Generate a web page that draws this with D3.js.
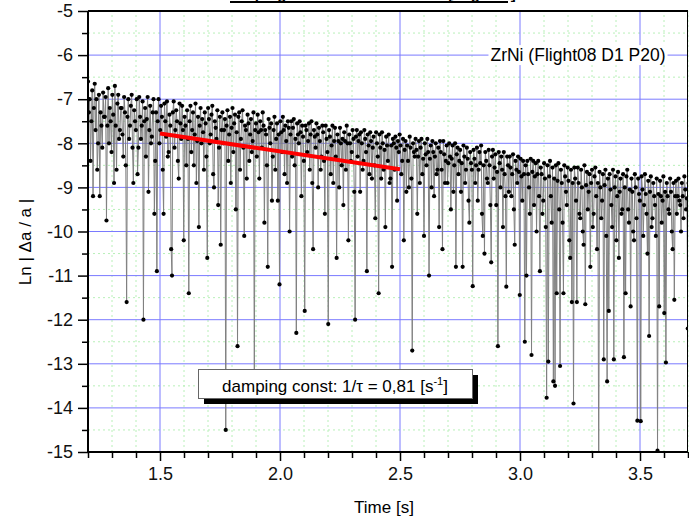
<!DOCTYPE html>
<html>
<head>
<meta charset="utf-8">
<script src="https://cdn.jsdelivr.net/npm/d3@7"></script>
<style>
  body { margin: 0; background: #fff; }
  svg { display: block; font-family: "Liberation Sans", Arial, sans-serif; }
</style>
</head>
<body>
<div id="chart"></div>
<script>
// sampling grid of the measurement (time axis, s)
const timeStart = 1.2;
const timeStep = 0.0035;

// Ln|Δa/a|, one value per sample (20 samples = 0.07 s per row)
const lnValues = [
  -6.6, -7.3, -7.0, -8.4, -7.5, -6.8, -9.2, -7.2, -6.65, -7.7, -7.0, -8.6, -8.0, -6.9, -9.2, -7.3, -7.6, -8.1, -6.85, -7.4,
  -7.4, -6.95, -9.75, -7.6, -6.75, -8.0, -7.2, -7.5, -8.2, -6.9, -7.35, -8.9, -6.7, -7.6, -8.6, -7.1, -6.9, -7.9, -7.7, -7.2,
  -7.2, -7.8, -8.3, -6.95, -7.3, -8.5, -11.6, -7.4, -7.0, -7.9, -7.6, -7.15, -6.9, -8.1, -8.9, -7.25, -7.5, -7.7, -7.0, -8.7,
  -8.1, -6.95, -7.4, -7.9, -7.6, -7.05, -12.0, -7.5, -7.2, -8.3, -7.45, -6.95, -9.1, -7.7, -7.15, -8.0, -7.85, -7.3, -7.0, -9.6,
  -8.4, -7.3, -10.9, -7.5, -7.0, -8.0, -7.7, -7.15, -7.4, -8.6, -9.6, -7.1, -7.5, -7.85, -7.05, -8.3, -8.2, -7.35, -7.6, -10.4,
  -11.0, -7.3, -7.05, -8.1, -7.7, -7.25, -7.5, -8.4, -8.8, -7.1, -7.55, -7.9, -7.15, -7.7, -10.2, -7.4, -7.6, -8.5, -7.25, -7.9,
  -11.4, -7.5, -7.15, -8.2, -7.7, -7.3, -8.5, -7.8, -7.1, -8.9, -7.95, -7.4, -9.9, -7.6, -7.2, -8.0, -7.45, -7.75, -8.6, -7.3,
  -7.55, -8.3, -10.6, -7.2, -7.45, -8.0, -7.8, -7.35, -7.15, -8.7, -9.0, -7.5, -7.65, -7.9, -7.25, -9.4, -8.1, -7.4, -10.3, -7.7,
  -7.3, -8.0, -7.7, -7.45, -14.5, -7.6, -7.25, -8.4, -7.8, -7.4, -8.9, -7.65, -7.2, -8.2, -7.55, -7.35, -9.5, -7.75, -12.6, -7.4,
  -7.3, -8.6, -7.9, -7.5, -7.25, -8.1, -10.1, -7.6, -7.7, -8.8, -7.35, -7.55, -8.4, -7.8, -7.45, -8.2, -7.95, -7.3, -13.3, -7.7,
  -7.55, -8.3, -7.35, -7.75, -8.8, -7.5, -7.7, -8.1, -7.3, -7.6, -9.8, -7.7, -7.8, -8.5, -10.8, -7.45, -7.65, -8.0, -7.55, -9.3,
  -8.3, -7.7, -7.4, -8.6, -7.9, -7.55, -9.3, -7.8, -11.2, -7.5, -7.75, -8.2, -7.4, -7.7, -8.7, -7.6, -7.95, -8.9, -7.5, -7.65,
  -10.0, -7.8, -7.5, -8.3, -7.65, -7.45, -8.5, -7.9, -12.3, -7.55, -7.8, -8.0, -7.5, -7.75, -9.2, -7.6, -7.85, -8.4, -11.8, -7.6,
  -7.7, -8.2, -7.95, -7.55, -8.6, -7.8, -7.5, -8.9, -10.4, -7.7, -7.85, -8.1, -7.55, -7.8, -9.0, -7.65, -7.95, -8.6, -8.3, -7.6,
  -7.75, -8.4, -9.6, -7.6, -7.9, -8.2, -12.1, -7.7, -7.85, -8.7, -8.05, -7.6, -8.9, -7.95, -7.65, -8.3, -10.6, -7.8, -7.95, -9.0,
  -7.65, -8.0, -8.5, -7.9, -9.4, -7.75, -7.95, -8.6, -7.6, -8.0, -10.2, -7.8, -8.0, -8.4, -8.2, -7.7, -7.9, -9.1, -12.0, -7.85,
  -7.7, -8.3, -7.95, -7.8, -9.1, -7.75, -8.0, -8.6, -8.4, -7.7, -7.9, -8.2, -10.9, -7.8, -8.05, -8.7, -7.75, -7.95, -8.8, -8.1,
  -7.85, -8.5, -9.7, -7.75, -8.0, -8.3, -11.4, -7.8, -8.1, -8.8, -7.75, -8.0, -8.6, -8.15, -9.9, -7.85, -8.05, -8.4, -7.8, -8.9,
  -8.8, -8.05, -10.8, -7.9, -8.0, -8.6, -7.85, -8.1, -9.3, -7.95, -8.2, -7.8, -8.05, -8.7, -8.4, -7.9, -10.2, -8.15, -7.95, -9.1,
  -8.05, -8.4, -9.0, -7.85, -8.1, -8.8, -12.7, -8.0, -8.2, -8.3, -7.9, -8.15, -9.6, -8.3, -7.95, -8.9, -8.1, -7.9, -8.7, -8.35,
  -10.1, -8.0, -8.25, -8.5, -7.9, -8.2, -11.0, -8.35, -8.05, -9.0, -7.95, -8.2, -9.2, -8.3, -8.0, -8.7, -8.6, -8.1, -9.9, -7.95,
  -8.2, -8.6, -10.4, -7.95, -8.25, -8.9, -8.4, -8.05, -8.9, -8.45, -8.0, -8.3, -9.5, -8.35, -8.05, -9.1, -8.5, -8.0, -10.8, -8.25,
  -8.1, -8.7, -8.4, -8.15, -9.1, -8.45, -10.8, -8.05, -8.3, -8.9, -8.6, -8.1, -8.35, -9.3, -9.8, -8.2, -8.45, -8.6, -11.24, -8.15,
  -8.35, -8.9, -8.5, -8.1, -9.3, -8.6, -8.2, -8.45, -8.05, -9.6, -10.1, -8.5, -10.5, -8.2, -8.4, -8.8, -8.9, -8.15, -8.5, -9.4,
  -10.7, -8.3, -8.15, -8.8, -8.55, -8.25, -9.4, -8.65, -12.6, -8.2, -8.45, -9.0, -8.3, -8.6, -9.9, -8.2, -8.7, -9.2, -11.25, -8.3,
  -8.5, -9.1, -8.3, -8.55, -9.2, -8.7, -8.25, -9.5, -10.3, -8.4, -8.6, -8.9, -8.3, -8.65, -11.44, -8.35, -8.75, -9.3, -8.4, -8.7,
  -12.5, -8.5, -11.0, -8.4, -8.7, -9.0, -9.6, -8.35, -12.8, -8.65, -8.4, -9.4, -8.75, -8.45, -10.0, -8.7, -8.4, -9.2, -10.9, -8.55,
  -8.7, -9.6, -9.3, -8.45, -8.8, -9.9, -13.77, -8.5, -12.95, -8.75, -8.4, -9.2, -9.8, -8.55, -13.4, -8.8, -13.5, -8.5, -11.4, -8.85,
  -8.45, -9.5, -13.05, -8.6, -8.9, -9.8, -11.4, -8.5, -8.75, -9.1, -9.4, -8.55, -8.85, -10.2, -10.6, -8.6, -11.6, -8.9, -13.9, -8.55,
  -8.8, -9.3, -11.6, -8.55, -8.9, -9.6, -9.7, -8.6, -9.0, -10.0, -10.3, -8.5, -11.65, -8.95, -8.65, -9.5, -9.1, -8.7, -10.8, -8.9,
  -8.6, -9.9, -9.6, -8.75, -8.55, -9.2, -10.4, -8.9, -15.8, -8.65, -9.0, -9.7, -9.3, -8.7, -12.9, -8.95, -8.6, -10.1, -13.4, -8.8,
  -11.8, -8.7, -9.05, -9.4, -9.9, -8.6, -12.9, -9.0, -8.75, -10.2, -9.2, -8.65, -10.6, -9.1, -8.8, -9.6, -9.5, -8.7, -12.85, -9.0,
  -11.4, -8.75, -8.6, -9.5, -9.8, -9.05, -11.7, -8.8, -9.1, -10.0, -10.2, -8.7, -9.0, -9.7, -14.29, -8.8, -9.15, -9.3, -14.3, -8.75,
  -9.05, -10.1, -9.4, -8.7, -9.15, -9.6, -10.5, -8.85, -12.37, -9.1, -8.75, -9.9, -9.7, -8.9, -9.2, -9.4, -10.1, -8.8, -14.97, -9.15,
  -11.7, -8.85, -9.2, -9.8, -9.3, -8.75, -11.85, -9.1, -12.97, -8.9, -9.2, -9.5, -9.6, -8.8, -9.1, -10.0, -10.4, -8.9, -11.55, -9.2,
  -8.85, -9.6, -9.2, -8.8, -9.3, -9.4, -10.0, -8.9, -9.2, -9.7, -8.75, -9.05, -9.5, -9.25, -12.2, -8.9
];

// linear fit drawn in red
const fitTimes = [1.5, 2.5];
const fitValues = [-7.78, -8.59];

const xMajorTicks = [1.5, 2.0, 2.5, 3.0, 3.5];
const yMajorTicks = [-15, -14, -13, -12, -11, -10, -9, -8, -7, -6, -5];

const titleText = 'Damping of the ZrNi oscillation [Flight08]';
const sampleText = 'ZrNi (Flight08 D1 P20)';

const width = 689, height = 519;
const margin = { left: 88, right: 1, top: 11, bottom: 67 };

const svg = d3.select('#chart').append('svg')
    .attr('width', width)
    .attr('height', height);

const x = d3.scaleLinear().domain([1.2, 3.7]).range([margin.left, width - margin.right]);
const y = d3.scaleLinear().domain([-15, -5]).range([height - margin.bottom, margin.top]);

const xMinorTicks = d3.range(12, 38).map(d => d / 10).filter(d => !xMajorTicks.some(m => Math.abs(m - d) < 1e-9));
const yMinorTicks = d3.range(-14.5, -5, 1);

// grid: green dotted minor, blue major
const grid = svg.append('g');
grid.selectAll('.gx-minor').data(xMinorTicks).enter().append('line')
    .attr('x1', d => x(d)).attr('x2', d => x(d))
    .attr('y1', y(-15)).attr('y2', y(-5))
    .attr('stroke', '#b8f0b8').attr('stroke-dasharray', '2,3');
grid.selectAll('.gy-minor').data(yMinorTicks).enter().append('line')
    .attr('x1', x(1.2)).attr('x2', x(3.7))
    .attr('y1', d => y(d)).attr('y2', d => y(d))
    .attr('stroke', '#b8f0b8').attr('stroke-dasharray', '2,3');
grid.selectAll('.gx-major').data(xMajorTicks).enter().append('line')
    .attr('x1', d => x(d)).attr('x2', d => x(d))
    .attr('y1', y(-15)).attr('y2', y(-5))
    .attr('stroke', '#7a7aff');
grid.selectAll('.gy-major').data(yMajorTicks.slice(1, -1)).enter().append('line')
    .attr('x1', x(1.2)).attr('x2', x(3.7))
    .attr('y1', d => y(d)).attr('y2', d => y(d))
    .attr('stroke', '#7a7aff');

// data
svg.append('clipPath').attr('id', 'plotClip')
  .append('rect')
    .attr('x', x(1.2)).attr('y', y(-5))
    .attr('width', x(3.7) - x(1.2)).attr('height', y(-15) - y(-5));

const points = lnValues.map((v, i) => ({ t: timeStart + i * timeStep, v: v }));
const plot = svg.append('g').attr('clip-path', 'url(#plotClip)');

plot.append('path')
    .datum(points)
    .attr('fill', 'none')
    .attr('stroke', '#808080')
    .attr('stroke-width', 1)
    .attr('d', d3.line().x(d => x(d.t)).y(d => y(d.v)));

plot.selectAll('circle')
    .data(points)
    .enter()
    .append('circle')
      .attr('cx', d => x(d.t))
      .attr('cy', d => y(d.v))
      .attr('r', 2.1)
      .attr('fill', '#000');

// fit line
svg.append('line')
    .attr('x1', x(fitTimes[0])).attr('y1', y(fitValues[0]))
    .attr('x2', x(fitTimes[1])).attr('y2', y(fitValues[1]))
    .attr('stroke', '#ff0000')
    .attr('stroke-width', 4);

// axes
const xAxisMajor = d3.axisBottom(x).tickValues(xMajorTicks).tickSize(9).tickPadding(6)
    .tickFormat(d3.format('.1f'));
const xAxisMinor = d3.axisBottom(x).tickValues(xMinorTicks).tickSize(6).tickFormat('');
const yAxisMajor = d3.axisLeft(y).tickValues(yMajorTicks).tickSize(10).tickPadding(5)
    .tickFormat(d => String(d));
const yAxisMinor = d3.axisLeft(y).tickValues(yMinorTicks).tickSize(6).tickFormat('');

const axisStyle = g => {
  g.select('.domain').remove();
  g.selectAll('line').attr('stroke', '#000').attr('stroke-width', 1.5);
  g.selectAll('text').attr('font-size', 18).attr('fill', '#111')
    .attr('font-family', '"Liberation Sans", Arial, sans-serif');
};

svg.append('g').attr('transform', `translate(0,${y(-15)})`).call(xAxisMinor).call(axisStyle);
svg.append('g').attr('transform', `translate(0,${y(-15)})`).call(xAxisMajor).call(axisStyle);
svg.append('g').attr('transform', `translate(${x(1.2)},0)`).call(yAxisMinor).call(axisStyle);
svg.append('g').attr('transform', `translate(${x(1.2)},0)`).call(yAxisMajor).call(axisStyle);

// frame
svg.append('line').attr('x1', x(1.2)).attr('x2', x(3.7)).attr('y1', y(-5)).attr('y2', y(-5))
    .attr('stroke', '#000').attr('stroke-width', 2);
svg.append('line').attr('x1', x(1.2)).attr('x2', x(3.7)).attr('y1', y(-15)).attr('y2', y(-15))
    .attr('stroke', '#000').attr('stroke-width', 2);
svg.append('line').attr('x1', x(1.2)).attr('x2', x(1.2)).attr('y1', y(-5)).attr('y2', y(-15))
    .attr('stroke', '#000').attr('stroke-width', 2);
svg.append('line').attr('x1', x(3.7) - 0.5).attr('x2', x(3.7) - 0.5).attr('y1', y(-5)).attr('y2', y(-15))
    .attr('stroke', '#000').attr('stroke-width', 1);

// axis titles
svg.append('text')
    .attr('x', (x(1.2) + x(3.7)) / 2 - 4)
    .attr('y', 513)
    .attr('text-anchor', 'middle')
    .attr('font-size', 17)
    .text('Time [s]');

svg.append('text')
    .attr('transform', `translate(31,${242}) rotate(-90)`)
    .attr('text-anchor', 'middle')
    .attr('font-size', 17)
    .text('Ln | \u0394a / a |');

// title, cut off by the top of the page as in the original
svg.append('text')
    .attr('x', 369).attr('y', -1)
    .attr('text-anchor', 'middle')
    .attr('font-size', 15).attr('font-weight', 'bold')
    .text(titleText);
svg.append('line').attr('x1', 230).attr('x2', 508).attr('y1', 2).attr('y2', 2)
    .attr('stroke', '#000').attr('stroke-width', 2);

// sample label
const sampleLabel = svg.append('text')
    .attr('x', 578).attr('y', y(-6) + 6)
    .attr('text-anchor', 'middle')
    .attr('font-size', 17.5)
    .text(sampleText);
const sb = sampleLabel.node().getBBox();
svg.insert('rect', () => sampleLabel.node())
    .attr('x', sb.x - 2).attr('y', sb.y)
    .attr('width', sb.width + 4).attr('height', sb.height)
    .attr('fill', '#fff');

// damping box with shadow
svg.append('rect')
    .attr('x', 204).attr('y', 375).attr('width', 274).attr('height', 29)
    .attr('fill', '#000');
svg.append('rect')
    .attr('x', 198.5).attr('y', 369.5).attr('width', 274).attr('height', 29)
    .attr('fill', '#fff').attr('stroke', '#666').attr('stroke-width', 1);
const damp = svg.append('text')
    .attr('x', 335).attr('y', 392)
    .attr('text-anchor', 'middle')
    .attr('font-size', 17);
damp.append('tspan').text('damping const: 1/\u03c4 = 0,81 [s');
damp.append('tspan').attr('dy', -7).attr('font-size', 11).text('-1');
damp.append('tspan').attr('dy', 7).text(']');
</script>
</body>
</html>
